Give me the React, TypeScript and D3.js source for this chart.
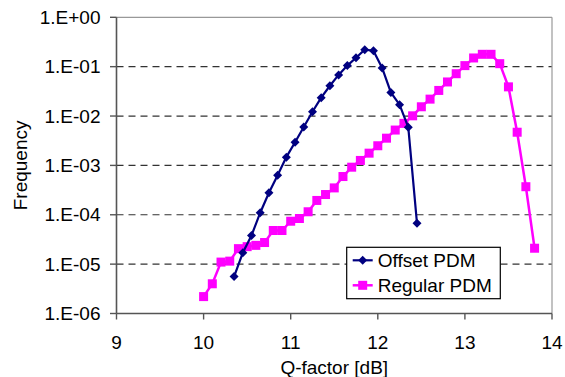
import React from 'react';
import * as d3 from 'd3';

const W = 565;
const H = 377;

// Offset PDM (navy diamonds)
const offsetQ = [10.35, 10.45, 10.55, 10.65, 10.75, 10.85, 10.95, 11.05, 11.15, 11.25, 11.35,
  11.45, 11.55, 11.65, 11.75, 11.85, 11.95, 12.05, 12.15, 12.25, 12.35, 12.45];
const offsetFreq = [5.6e-6, 1.7e-5, 3.8e-5, 1.1e-4, 2.8e-4, 6.3e-4, 1.47e-3, 2.95e-3, 6.0e-3,
  1.22e-2, 2.35e-2, 4.1e-2, 6.8e-2, 0.105, 0.152, 0.221, 0.211, 0.094, 0.030, 0.017, 5.9e-3, 6.7e-5];

// Regular PDM (magenta squares)
const regularQ = [10.0, 10.1, 10.2, 10.3, 10.4, 10.5, 10.6, 10.7, 10.8, 10.9, 11.0, 11.1, 11.2,
  11.3, 11.4, 11.5, 11.6, 11.7, 11.8, 11.9, 12.0, 12.1, 12.2, 12.3, 12.4, 12.5, 12.6, 12.7, 12.8,
  12.9, 13.0, 13.1, 13.2, 13.3, 13.4, 13.5, 13.6, 13.7, 13.8];
const regularFreq = [2.2e-6, 4.0e-6, 1.1e-5, 1.15e-5, 2.06e-5, 2.26e-5, 2.4e-5, 2.74e-5, 4.8e-5,
  4.8e-5, 7.4e-5, 8.4e-5, 1.15e-4, 1.95e-4, 2.57e-4, 3.5e-4, 5.95e-4, 9.2e-4, 1.26e-3, 1.77e-3,
  2.5e-3, 3.56e-3, 5.2e-3, 7.1e-3, 1.01e-2, 1.54e-2, 2.2e-2, 3.3e-2, 4.9e-2, 7.2e-2, 0.105, 0.15,
  0.178, 0.178, 0.115, 0.039, 4.7e-3, 3.7e-4, 2.1e-5];

const xTicks = [9, 10, 11, 12, 13, 14];
const yTicks = [1, 1e-1, 1e-2, 1e-3, 1e-4, 1e-5, 1e-6];
const legendLabels = ['Offset PDM', 'Regular PDM'];

const FONT = '"Liberation Sans", Arial, sans-serif';
const NAVY = '#000080';
const MAGENTA = '#FF00FF';

const fmtY = (v: number) => {
  const e = Math.round(Math.log10(v));
  const s = e >= 0 ? '+' : '-';
  return `1.E${s}${String(Math.abs(e)).padStart(2, '0')}`;
};

const App = () => {
  const left = 116.5, right = 552, top = 17.3, bottom = 313.5;
  const x = d3.scaleLinear().domain([9, 14]).range([left, right]);
  const y = d3.scaleLog().domain([1e-6, 1]).range([bottom, top]);

  const line = d3.line<[number, number]>()
    .x(d => x(d[0]))
    .y(d => y(d[1]));

  const offsetPts: [number, number][] = offsetQ.map((q, i) => [q, offsetFreq[i]]);
  const regularPts: [number, number][] = regularQ.map((q, i) => [q, regularFreq[i]]);

  const diamond = (cx: number, cy: number, r: number) =>
    `M${cx},${cy - r}L${cx + r},${cy}L${cx},${cy + r}L${cx - r},${cy}Z`;

  const lgX = 346.7, lgY = 247.3, lgW = 153.6, lgH = 51.4;
  const fs = 19;

  return (
    <svg width={W} height={H} style={{ position: 'absolute', left: 0, top: 0, background: '#fff' }}
      fontFamily={FONT}>
      {/* gridlines */}
      {yTicks.filter(t => t < 1 && t > 1e-6).map(t => (
        <line key={t} x1={left} x2={right} y1={y(t)} y2={y(t)}
          stroke="#333" strokeWidth={1.2} strokeDasharray="7,5" />
      ))}
      {/* plot border top/right */}
      <line x1={left} x2={right} y1={top} y2={top} stroke="#999" strokeWidth={1.2} />
      <line x1={right} x2={right} y1={top} y2={bottom} stroke="#999" strokeWidth={1.2} />
      {/* axes */}
      <line x1={left} x2={left} y1={top} y2={bottom} stroke="#555" strokeWidth={1.6} />
      <line x1={left} x2={right} y1={bottom} y2={bottom} stroke="#555" strokeWidth={1.6} />
      {yTicks.map(t => (
        <g key={t}>
          <line x1={left - 6.5} x2={left} y1={y(t)} y2={y(t)} stroke="#555" strokeWidth={1.4} />
          <text x={left - 16} y={y(t) + 6.7} textAnchor="end" fontSize={fs} fill="#000">
            {fmtY(t)}
          </text>
        </g>
      ))}
      {xTicks.map(t => (
        <g key={t}>
          <line x1={x(t)} x2={x(t)} y1={bottom} y2={bottom + 6} stroke="#555" strokeWidth={1.4} />
          <text x={x(t)} y={349.3} textAnchor="middle" fontSize={fs} fill="#000">{t}</text>
        </g>
      ))}
      <text x={(left + right) / 2} y={374} textAnchor="middle" fontSize={fs}>Q-factor [dB]</text>
      <text transform={`translate(26.5,${(top + bottom) / 2}) rotate(-90)`} textAnchor="middle"
        fontSize={fs}>Frequency</text>

      {/* series */}
      <path d={line(regularPts) || ''} fill="none" stroke={MAGENTA} strokeWidth={2.5} />
      {regularPts.map((p, i) => (
        <rect key={i} x={x(p[0]) - 4.5} y={y(p[1]) - 4.5} width={9} height={9} fill={MAGENTA} />
      ))}
      <path d={line(offsetPts) || ''} fill="none" stroke={NAVY} strokeWidth={2.2} />
      {offsetPts.map((p, i) => (
        <path key={i} d={diamond(x(p[0]), y(p[1]), 4.5)} fill={NAVY} />
      ))}

      {/* legend */}
      <rect x={lgX} y={lgY} width={lgW} height={lgH} fill="#fff" stroke="#000" strokeWidth={1.2} />
      {legendLabels.map((lab, i) => {
        const cy = lgY + 13 + i * 25;
        const col = i === 0 ? NAVY : MAGENTA;
        return (
          <g key={lab}>
            <line x1={352.7} x2={372.7} y1={cy} y2={cy} stroke={col} strokeWidth={i === 0 ? 2.2 : 2.5} />
            {i === 0
              ? <path d={diamond(362.7, cy, 4.5)} fill={col} />
              : <rect x={362.7 - 4.5} y={cy - 4.5} width={9} height={9} fill={col} />}
            <text x={377.7} y={cy + 6.8} fontSize={fs}>{lab}</text>
          </g>
        );
      })}
    </svg>
  );
};

export default App;
